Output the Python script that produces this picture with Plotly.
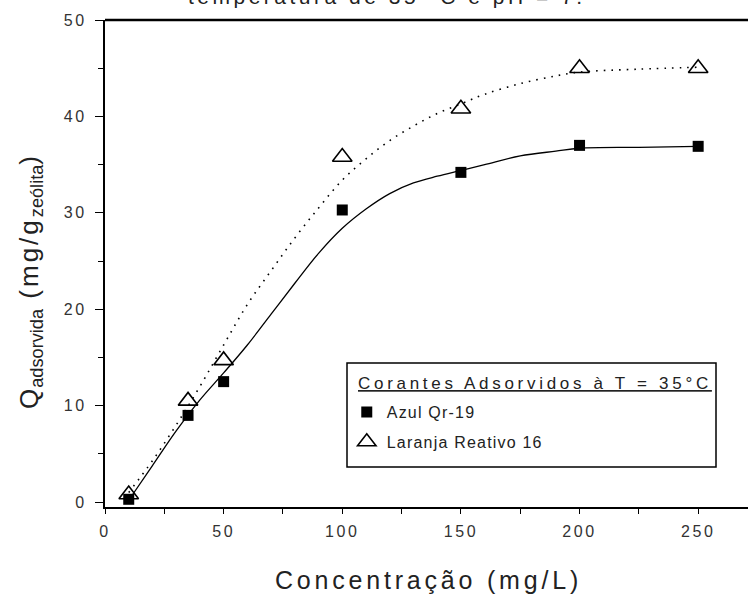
import plotly.graph_objects as go

# Measured data
conc = [10, 35, 50, 100, 150, 200, 250]
azul = [0.3, 9.0, 12.5, 30.3, 34.2, 37.0, 36.9]
laranja = [0.8, 10.5, 14.7, 35.8, 40.8, 45.0, 45.0]

# Fitted curves
fit_x = [10, 20, 30, 40, 50, 60, 70, 80, 90, 100, 110, 120, 130, 140, 150, 160, 175, 190, 200, 225, 250]
fit_azul = [0.2, 3.8, 7.4, 10.6, 13.4, 16.3, 19.5, 22.7, 25.8, 28.4, 30.4, 32.0, 33.1, 33.8, 34.4, 35.0, 35.9, 36.4, 36.7, 36.8, 36.9]
fit_laranja = [1.0, 4.3, 8.0, 12.0, 16.3, 20.5, 24.0, 27.4, 30.5, 33.4, 35.6, 37.5, 39.0, 40.3, 41.3, 42.3, 43.4, 44.2, 44.6, 44.9, 45.1]

x_ticks = [0, 50, 100, 150, 200, 250]
y_ticks = [0, 10, 20, 30, 40, 50]

title_text = "temperatura de 35 °C e pH = 7."
legend_title = "Corantes Adsorvidos à T = 35°C"
names = ["Azul Qr-19", "Laranja Reativo 16"]


def ls(text, px):
    return f'<span style="letter-spacing:{px}px">{text}</span>'


fig = go.Figure()
fig.add_trace(go.Scatter(x=fit_x, y=fit_laranja, mode="lines",
                         line=dict(color="black", width=1.6, dash="1.6px,6px", shape="spline"),
                         showlegend=False, hoverinfo="skip"))
fig.add_trace(go.Scatter(x=fit_x, y=fit_azul, mode="lines",
                         line=dict(color="black", width=1.3, shape="spline"),
                         showlegend=False, hoverinfo="skip"))
fig.add_trace(go.Scatter(x=conc, y=azul, mode="markers", name=ls(names[0], 1.2),
                         legendgroup="a",
                         marker=dict(symbol="square", size=11, color="black")))
fig.add_trace(go.Scatter(x=conc, y=laranja, mode="markers", name=ls(names[1], 1.2),
                         legendgroup="b",
                         marker=dict(symbol="triangle-up-open", size=17, color="black",
                                     line=dict(width=1.6, color="black"))))

font_family = "Liberation Sans, Arial, sans-serif"

# cut-off title at the top
fig.add_annotation(text=ls(title_text, 3.5), xref="paper", yref="paper",
                   x=0.4386, y=1.0205, xanchor="center", yanchor="bottom", showarrow=False,
                   font=dict(size=21, color="#222", family=font_family))

# x axis title
fig.add_annotation(text=ls("Concentração (mg/L)", 3.8), xref="paper", yref="paper",
                   x=0.503, y=-0.150, xanchor="center", yanchor="middle", showarrow=False,
                   font=dict(size=25, color="#222", family=font_family))

# y axis title
y_title = (ls("Q", 1) + "<sub>" + ls("adsorvida", 0) + "</sub>" + ls(" (mg/g", 3)
           + "<sub>" + ls("zeólita", 0) + "</sub>" + ls(")", 0))
fig.add_annotation(text=y_title, xref="paper", yref="paper", textangle=-90,
                   x=(30 - 105) / 643, y=(507 - 283) / 487, xanchor="center", yanchor="middle",
                   showarrow=False, font=dict(size=26, color="#222", family=font_family))

# top frame line
fig.add_shape(type="line", xref="paper", yref="paper", x0=0, x1=1, y0=1, y1=1,
              line=dict(color="black", width=2.5))

# legend box
fig.add_shape(type="rect", xref="paper", yref="paper",
              x0=(347 - 105) / 643, x1=(716 - 105) / 643,
              y0=(507 - 467) / 487, y1=(507 - 363) / 487,
              line=dict(color="black", width=1.5), fillcolor="white", layer="above")

# legend title (underlined)
fig.add_annotation(text=ls(legend_title, 3.7), xref="paper", yref="paper",
                   x=(356 - 105) / 643, y=(507 - 383) / 487, xanchor="left", yanchor="middle",
                   showarrow=False,
                   font=dict(size=17, color="#222", family=font_family, lineposition="under"))

fig.update_layout(
    width=748, height=601,
    margin=dict(l=105, r=0, t=20, b=94),
    plot_bgcolor="white", paper_bgcolor="white",
    font=dict(family=font_family, color="#222"),
    legend=dict(
        x=0.376, y=(507 - 395) / 487, xanchor="left", yanchor="top",
        bgcolor="rgba(0,0,0,0)", borderwidth=0,
        font=dict(size=16, color="#222"),
        itemwidth=30,
        traceorder="grouped",
        tracegroupgap=6,
    ),
    xaxis=dict(
        range=[0, 271], tickvals=x_ticks, ticktext=[ls(str(v), 2.6) for v in x_ticks],
        showgrid=False, zeroline=False, showline=True, linecolor="black", linewidth=2,
        ticks="outside", ticklen=5, tickwidth=1.3, tickcolor="black",
        tickfont=dict(size=16, color="#333"),
        ticklabelstandoff=4,
        minor=dict(tickvals=[25, 75, 125, 175, 225], ticks="outside", ticklen=5, tickcolor="black", tickwidth=1.3),
    ),
    yaxis=dict(
        range=[-0.5, 50], tickvals=y_ticks, ticktext=[ls(str(v), 2.6) for v in y_ticks],
        showgrid=False, zeroline=False, showline=True, linecolor="black", linewidth=2,
        ticks="outside", ticklen=8, tickwidth=1.3, tickcolor="black",
        tickfont=dict(size=16, color="#333"),
        ticklabelstandoff=5,
        minor=dict(tickvals=[5, 15, 25, 35, 45], ticks="outside", ticklen=5, tickcolor="black", tickwidth=1.3),
    ),
)

fig.write_html("out.html")
